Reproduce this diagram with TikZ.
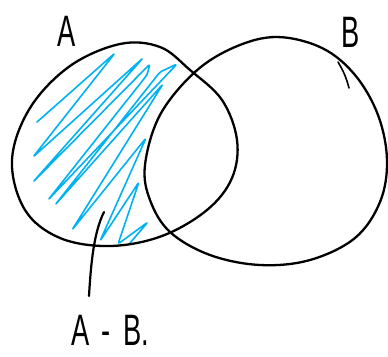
\documentclass[tikz,border=0pt]{standalone}
\usepackage{fontspec}
\setmainfont{Liberation Sans}
\usepackage{tikz}
\usetikzlibrary{positioning, calc}
\definecolor{inkblack}{RGB}{0,0,0}
\definecolor{hatchcyan}{RGB}{0,178,240}
\tikzset{
  setline/.style={draw=inkblack, line width=2.3pt, line cap=round, line join=round},
  hatchline/.style={draw=hatchcyan, line width=1.6pt, line cap=round, line join=round, rounded corners=2.5pt},
  leader/.style={draw=inkblack, line width=2.2pt, line cap=round},
  handlabel/.style={font=\fontsize{44}{44}\selectfont, inner sep=0pt, xscale=0.62, text=inkblack}
}
\begin{document}
\begin{tikzpicture}[x=1pt, y=-1pt]
  \useasboundingbox (0,0) rectangle (388,356);

  % shading of A - B
  \draw[hatchline] (37,122) -- (115,53) -- (33,157) -- (143,58) -- (33,182)
    -- (150,64) -- (147,75) -- (48,200) -- (177,64) -- (160,72) -- (55,205)
    -- (163,84) -- (72,230) -- (146,138) -- (100,241) -- (139,182) -- (118,244)
    -- (148,222) -- (130,243);

  % set A
  \draw[setline] plot[smooth cycle, tension=0.6] coordinates {
    (190,70) (160,47) (120,44) (70,66) (30,108) (12,160) (25,210) (60,238)
    (110,246) (162,236) (207,210) (232,178) (237,140) (222,100)};
  % set B
  \draw[setline] plot[smooth cycle, tension=0.6] coordinates {
    (277,37) (322,48) (355,75) (378,115) (387,160) (380,202) (355,238)
    (310,260) (260,265) (210,255) (170,232) (150,200) (145,165) (160,115)
    (195,72) (235,47)};
  \draw[setline, line width=1.6pt] (338,62) to[bend left=8] (349,88);

  % labels
  \node[handlabel] (lblA) at (67,31) {A};
  \node[handlabel] (lblB) at (351,32) {B};
  \node[handlabel, anchor=base] (lbldiff) at (110,345)
    {\spaceskip=0.45em A - B.};

  \coordinate (leadtop) at (104,212);
  \coordinate (leadend) at (89,296);
  \draw[leader] (leadtop) .. controls (94,232) and (91,262) .. (leadend);
\end{tikzpicture}
\end{document}
